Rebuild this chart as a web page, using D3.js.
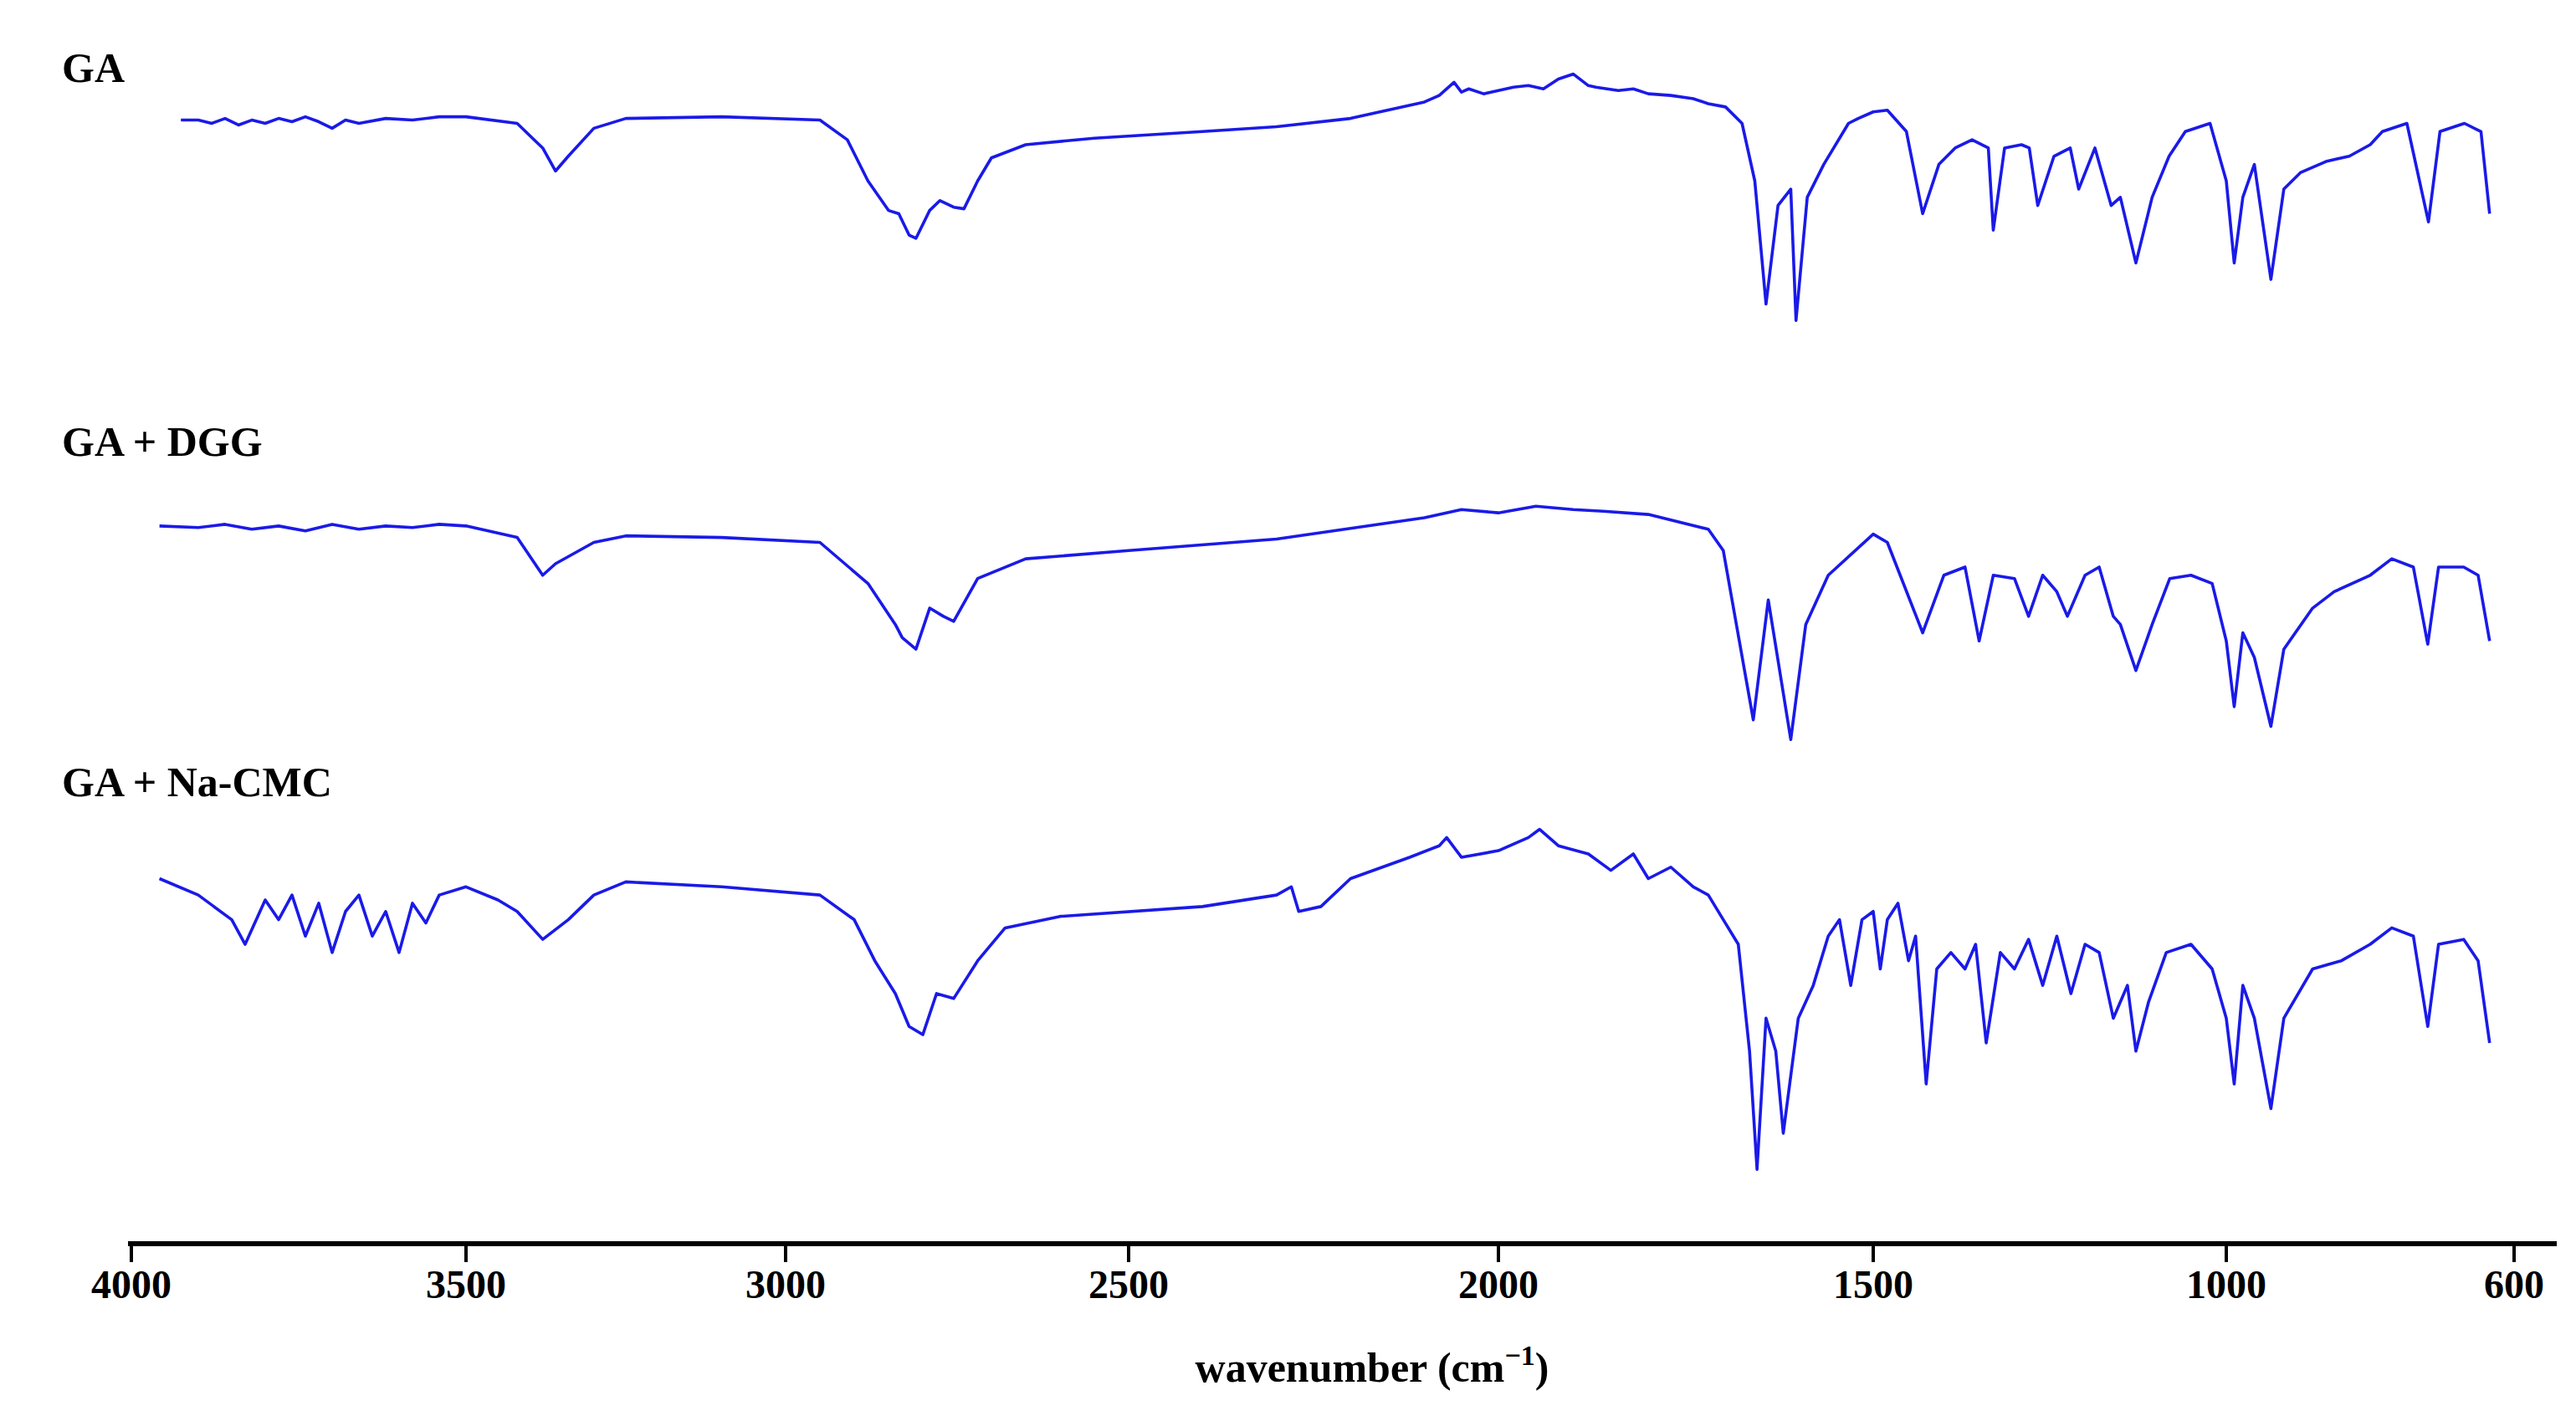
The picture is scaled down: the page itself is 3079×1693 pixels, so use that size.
<!DOCTYPE html>
<html lang="en">
<head>
<meta charset="UTF-8">
<title>FTIR spectra</title>
<script src="https://d3js.org/d3.v7.min.js"></script>
<style>
  body { margin: 0; background: #fff; }
  .lbl { font-family: "Liberation Serif", "DejaVu Serif", serif; font-weight: bold; fill: #000; }
</style>
</head>
<body>
<svg width="3079" height="1693"></svg>
<script>
// wavenumber (cm-1) and relative transmittance (arbitrary units)
var gaData = [[3926,127],[3900,127],[3880,125],[3860,128],[3840,124],[3820,127],[3800,125],[3780,128],[3760,126],[3740,129],[3720,126],[3700,122],[3680,127],[3660,125],[3620,128],[3580,127],[3540,129],[3500,129],[3420,125],[3380,110],[3360,96],[3340,105],[3300,122],[3250,128],[3100,129],[2950,127],[2910,115],[2880,90],[2850,72],[2835,70],[2820,57],[2810,55],[2790,72],[2775,78],[2755,74],[2740,73],[2720,90],[2700,104],[2650,112],[2550,116],[2400,120],[2300,123],[2200,128],[2100,138],[2080,142],[2060,150],[2050,144],[2040,146],[2020,143],[2000,145],[1980,147],[1960,148],[1940,146],[1920,152],[1900,155],[1880,148],[1870,147],[1840,145],[1820,146],[1800,143],[1770,142],[1740,140],[1720,137],[1697,135],[1675,125],[1658,90],[1643,15],[1627,75],[1610,85],[1603,5],[1588,80],[1566,100],[1533,125],[1520,128],[1500,132],[1480,133],[1453,120],[1430,70],[1407,100],[1384,110],[1360,115],[1337,110],[1330,60],[1314,110],[1290,112],[1279,110],[1267,75],[1244,105],[1221,110],[1209,85],[1186,110],[1163,75],[1150,80],[1128,40],[1105,80],[1081,105],[1058,120],[1023,125],[1000,90],[989,40],[977,80],[961,100],[938,30],[920,85],[897,95],[860,102],[829,105],[800,112],[783,120],[749,125],[719,65],[703,120],[669,125],[646,120],[634,70]];
var dggData = [[3958,135],[3900,134],[3860,136],[3820,133],[3780,135],[3740,132],[3700,136],[3660,133],[3620,135],[3580,134],[3540,136],[3500,135],[3420,128],[3380,105],[3360,112],[3300,125],[3250,129],[3100,128],[2950,125],[2880,100],[2840,75],[2830,67],[2810,60],[2790,85],[2770,80],[2755,77],[2720,103],[2650,115],[2500,120],[2300,127],[2100,140],[2050,145],[2000,143],[1950,147],[1900,145],[1860,144],[1800,142],[1720,133],[1700,120],[1660,17],[1640,90],[1610,5],[1590,75],[1560,105],[1500,130],[1480,125],[1430,70],[1400,105],[1370,110],[1350,65],[1330,105],[1300,103],[1280,80],[1260,105],[1240,95],[1225,80],[1200,105],[1180,110],[1160,80],[1150,75],[1128,47],[1105,75],[1080,103],[1050,105],[1020,100],[1000,65],[989,25],[977,70],[961,55],[938,13],[920,60],[880,85],[850,95],[800,105],[770,115],[740,110],[720,63],[705,110],[670,110],[650,105],[634,65]];
var cmcData = [[3958,180],[3900,170],[3850,155],[3830,140],[3800,167],[3780,155],[3760,170],[3740,145],[3720,165],[3700,135],[3680,160],[3660,170],[3640,145],[3620,160],[3600,135],[3580,165],[3560,153],[3540,170],[3500,175],[3450,167],[3420,160],[3380,143],[3340,155],[3300,170],[3250,178],[3100,175],[2950,170],[2900,155],[2870,130],[2840,110],[2820,90],[2800,85],[2780,110],[2755,107],[2720,130],[2680,150],[2600,157],[2400,163],[2300,170],[2280,175],[2270,160],[2240,163],[2200,180],[2120,193],[2080,200],[2070,205],[2050,193],[2000,197],[1960,205],[1945,210],[1920,200],[1880,195],[1850,185],[1820,195],[1800,180],[1770,187],[1740,175],[1720,170],[1700,155],[1680,140],[1665,75],[1655,3],[1643,95],[1630,75],[1620,25],[1600,95],[1580,115],[1560,145],[1545,155],[1530,115],[1515,155],[1500,160],[1490,125],[1480,155],[1465,165],[1450,130],[1440,145],[1425,55],[1410,125],[1390,135],[1370,125],[1355,140],[1340,80],[1320,135],[1300,125],[1280,143],[1260,115],[1240,145],[1220,110],[1200,140],[1180,135],[1160,95],[1140,115],[1128,75],[1110,105],[1085,135],[1050,140],[1020,125],[1000,95],[989,55],[977,115],[961,95],[938,40],[920,95],[880,125],[840,130],[800,140],[770,150],[740,145],[720,90],[705,140],[670,143],[650,130],[634,80]];

var seriesNames = ["GA", "GA + DGG", "GA + Na-CMC"];
var tickValues = [4000, 3500, 3000, 2500, 2000, 1500, 1000, 600];

var svg = d3.select("svg");

// the printed axis is slightly uneven, so map each labelled tick
var x = d3.scaleLinear()
    .domain(tickValues)
    .range([157, 557, 939, 1349, 1791, 2239, 2661, 3005]);

var panels = [
    {name: seriesNames[0], data: gaData, base: 393, labelY: 98},
    {name: seriesNames[1], data: dggData, base: 894, labelY: 545},
    {name: seriesNames[2], data: cmcData, base: 1404, labelY: 952}
];

panels.forEach(function(p) {
    var y = d3.scaleLinear().domain([0, 100]).range([p.base, p.base - 196.4]);
    var line = d3.line().x(d => x(d[0])).y(d => y(d[1]));
    svg.append("path")
        .datum(p.data)
        .attr("d", line)
        .attr("fill", "none")
        .attr("stroke", "#1a1ae8")
        .attr("stroke-width", 3.6)
        .attr("stroke-linejoin", "round");
    svg.append("text")
        .attr("class", "lbl")
        .attr("x", 74)
        .attr("y", p.labelY)
        .attr("font-size", 50)
        .text(p.name);
});

// x axis
var axisY = 1487;
svg.append("line")
    .attr("x1", 153).attr("x2", 3056)
    .attr("y1", axisY).attr("y2", axisY)
    .attr("stroke", "#000").attr("stroke-width", 6);

var ticks = svg.append("g").selectAll("g").data(tickValues).enter().append("g")
    .attr("transform", d => "translate(" + x(d) + "," + axisY + ")");
ticks.append("line").attr("y1", 0).attr("y2", 22).attr("stroke", "#000").attr("stroke-width", 4);
ticks.append("text")
    .attr("class", "lbl")
    .attr("y", 65)
    .attr("text-anchor", "middle")
    .attr("font-size", 48)
    .text(d => d);

var title = svg.append("text")
    .attr("class", "lbl")
    .attr("x", 1640)
    .attr("y", 1652)
    .attr("text-anchor", "middle")
    .attr("font-size", 50);
title.append("tspan").text("wavenumber (cm");
title.append("tspan").attr("dy", -20).attr("font-size", 34).text("\u22121");
title.append("tspan").attr("dy", 20).text(")");
</script>
</body>
</html>
